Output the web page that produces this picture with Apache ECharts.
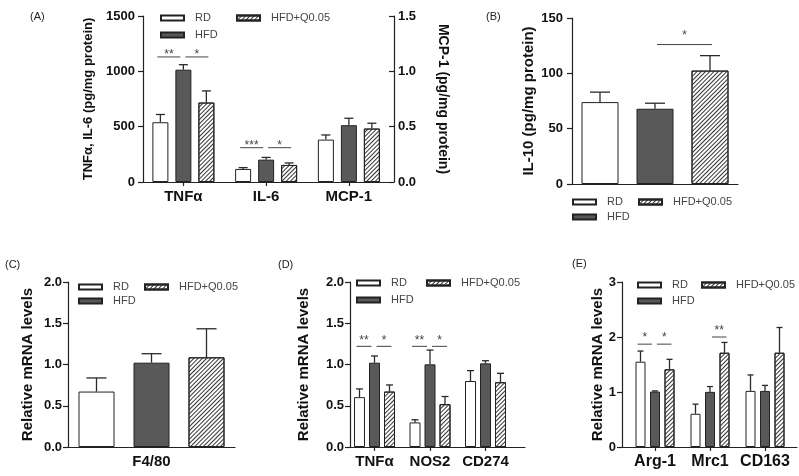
<!DOCTYPE html>
<html><head><meta charset="utf-8">
<script src="https://cdn.jsdelivr.net/npm/echarts@6/dist/echarts.min.js"></script>
<style>html,body{margin:0;padding:0;background:#fff}#c{width:799px;height:476px}</style>
</head><body><div id="c"></div>
<script>
// ---------- DATA ----------
const groupNames = ['RD', 'HFD', 'HFD+Q0.05'];

// Panel A (TNFα, IL-6 on left axis; MCP-1 on right axis)
const catsA = ['TNFα', 'IL-6', 'MCP-1'];
const aRD = [540, 118, 0.383];
const aHFD = [1015, 202, 0.513];
const aQ = [718, 154, 0.483];
const aRDsem = [70, 12, 0.042];
const aHFDsem = [45, 20, 0.063];
const aQsem = [105, 18, 0.048];
const ticksA = [0, 500, 1000, 1500];
const ticksAright = [0, 0.5, 1.0, 1.5];
const sigA = [[0, 0, 1, 1130, '**'], [0, 1, 2, 1130, '*'], [1, 0, 1, 310, '***'], [1, 1, 2, 310, '*']];

// Panel B
const catsB = [''];
const bRD = [74], bHFD = [68], bQ = [102.5];
const bRDsem = [9], bHFDsem = [5], bQsem = [13.5];
const ticksB = [0, 50, 100, 150];
const sigB = [[0, 1, 2, 126, '*']];

// Panel C
const catsC = ['F4/80'];
const cRD = [0.672], cHFD = [1.022], cQ = [1.087];
const cRDsem = [0.165], cHFDsem = [0.109], cQsem = [0.346];
const ticksC = [0, 0.5, 1.0, 1.5, 2.0];

// Panel D
const catsD = ['TNFα', 'NOS2', 'CD274'];
const dRD = [0.604, 0.298, 0.80];
const dHFD = [1.022, 1.002, 1.014];
const dQ = [0.672, 0.519, 0.785];
const dRDsem = [0.10, 0.032, 0.126];
const dHFDsem = [0.081, 0.173, 0.032];
const dQsem = [0.08, 0.093, 0.108];
const ticksD = [0, 0.5, 1.0, 1.5, 2.0];
const sigD = [[0, 0, 1, 1.22, '**'], [0, 1, 2, 1.22, '*'], [1, 0, 1, 1.22, '**'], [1, 1, 2, 1.22, '*']];

// Panel E
const catsE = ['Arg-1', 'Mrc1', 'CD163'];
const eRD = [1.551, 0.604, 1.02];
const eHFD = [1.008, 1.002, 1.02];
const eQ = [1.412, 1.714, 1.714];
const eRDsem = [0.193, 0.175, 0.29];
const eHFDsem = [0.012, 0.097, 0.10];
const eQsem = [0.182, 0.187, 0.459];
const ticksE = [0, 1, 2, 3];
const sigE = [[0, 0, 1, 1.87, '*'], [0, 1, 2, 1.87, '*'], [1, 1, 2, 2.0, '**']];

// ---------- STYLE ----------
const FONT = '"Liberation Sans", Arial, sans-serif';
const AX = '#222';
const groupStyles = [
  { color: '#ffffff', borderColor: '#222', borderWidth: 1 },
  { color: '#595959', borderColor: '#222', borderWidth: 1 },
  { color: '#ffffff', borderColor: '#222', borderWidth: 1,
    decal: { symbol: 'rect', symbolSize: 1, dashArrayX: [1, 0], dashArrayY: [1, 2], rotation: -Math.PI / 4, color: '#333' } }
];

function bars(groupsMeans, xIdx, yIdx, barW, gap, keep) {
  return groupsMeans.map((arr, g) => ({
    type: 'bar', name: groupNames[g], xAxisIndex: xIdx, yAxisIndex: yIdx,
    data: arr.map((v, i) => keep(i) ? v : '-'),
    barWidth: barW, barGap: (gap / barW * 100) + '%',
    itemStyle: groupStyles[g], z: 2, silent: true
  }));
}

function errSeries(groupsMeans, groupsSems, xIdx, yIdx, step, cap, keep) {
  const data = [];
  groupsMeans.forEach((arr, g) => arr.forEach((v, i) => { if (keep(i)) data.push([i, g, v, groupsSems[g][i]]); }));
  return {
    type: 'custom', name: 'err' + xIdx + '_' + yIdx, xAxisIndex: xIdx, yAxisIndex: yIdx, z: 3, silent: true,
    encode: { x: 0, y: 2 }, data: data,
    renderItem: function (params, api) {
      const c = api.value(0), g = api.value(1), m = api.value(2), s = api.value(3);
      const p0 = api.coord([c, m]), p1 = api.coord([c, m + s]);
      const x = p0[0] + (g - 1) * step;
      const st = { stroke: '#2a2a2a', lineWidth: 1.3 };
      return { type: 'group', children: [
        { type: 'line', shape: { x1: x, y1: p0[1], x2: x, y2: p1[1] }, style: st },
        { type: 'line', shape: { x1: x - cap / 2, y1: p1[1], x2: x + cap / 2, y2: p1[1] }, style: st }
      ] };
    }
  };
}

function sigSeries(arr, xIdx, yIdx, step, starGap) {
  return {
    type: 'custom', name: 'sig' + xIdx, xAxisIndex: xIdx, yAxisIndex: yIdx, z: 4, silent: true,
    encode: { x: 0, y: 3 }, data: arr.map(d => [d[0], d[1], d[2], d[3]]),
    renderItem: function (params, api) {
      const d = arr[params.dataIndex];
      const p = api.coord([d[0], d[3]]);
      const xa = p[0] + (d[1] - 1) * step + (d[1] === 1 ? 2 : -3);
      const xb = p[0] + (d[2] - 1) * step + (d[2] === 1 ? -3 : 2);
      return { type: 'group', children: [
        { type: 'line', shape: { x1: xa, y1: p[1], x2: xb, y2: p[1] }, style: { stroke: '#444', lineWidth: 1 } },
        { type: 'text', style: { text: d[4], x: (xa + xb) / 2, y: p[1] - starGap, align: 'center', verticalAlign: 'middle', font: '12px ' + FONT, fill: '#444' } }
      ] };
    }
  };
}

function frameX(grid) {
  return { gridIndex: grid, type: 'category', data: [''], axisLine: { show: true, lineStyle: { color: AX, width: 1.2 } },
    axisTick: { show: false }, axisLabel: { show: false }, splitLine: { show: false } };
}
function dataX(grid, cats, fs, showTick) {
  return { gridIndex: grid, type: 'category', data: cats, axisLine: { show: false },
    axisTick: { show: showTick, alignWithLabel: true, length: 4, interval: 0, lineStyle: { color: AX, width: 1.2 } },
    axisLabel: { show: true, interval: 0, fontSize: fs, fontWeight: 'bold', color: '#111', margin: 7, fontFamily: FONT }, splitLine: { show: false } };
}
function visY(grid, ticks, dec, name, nameGap, nameSize, labelMargin) {
  return { gridIndex: grid, type: 'value', min: ticks[0], max: ticks[ticks.length - 1], interval: ticks[1] - ticks[0],
    axisLine: { show: true, onZero: false, lineStyle: { color: AX, width: 1.2 } },
    axisTick: { show: true, length: 5, lineStyle: { color: AX, width: 1.2 } },
    axisLabel: { fontSize: 13, fontWeight: 'bold', color: '#111', margin: labelMargin, fontFamily: FONT, formatter: v => v.toFixed(dec) },
    splitLine: { show: false },
    name: name, nameLocation: 'middle', nameGap: nameGap,
    nameTextStyle: { fontSize: nameSize, fontWeight: 'bold', color: '#111', fontFamily: FONT } };
}
function hidY(grid, ticks) {
  return { gridIndex: grid, type: 'value', min: ticks[0], max: ticks[ticks.length - 1], show: false, splitLine: { show: false } };
}
function legendPair(l1, l2, top, gap) {
  const base = { orient: 'vertical', top: top, padding: 0, itemGap: gap, itemWidth: 23, itemHeight: 5, icon: 'rect', selectedMode: false,
    textStyle: { fontSize: 11, color: '#444', lineHeight: 12, fontFamily: FONT, padding: [0, 0, 0, 6] } };
  return [Object.assign({}, base, { left: l1, data: ['RD', 'HFD'] }), Object.assign({}, base, { left: l2, data: ['HFD+Q0.05'] })];
}

const rightA = visY(0, ticksAright, 1, 'MCP-1 (pg/mg protein)', 42, 14, 4);
rightA.position = 'right';
rightA.axisTick.inside = true;
rightA.nameRotate = -90;

const keepAll = () => true;
const option = {
  animation: false,
  textStyle: { fontFamily: FONT },
  title: [
    { text: '(A)', left: 30, top: 11 }, { text: '(B)', left: 486, top: 11 },
    { text: '(C)', left: 5, top: 259 }, { text: '(D)', left: 278, top: 259 }, { text: '(E)', left: 572, top: 258 }
  ].map(t => Object.assign(t, { padding: 0, textStyle: { fontSize: 11, fontWeight: 'normal', color: '#222', fontFamily: FONT } })),
  legend: [].concat(
    legendPair(160, 236, 12, 5),
    legendPair(572, 638, 196, 3),
    legendPair(78, 144, 281, 2),
    legendPair(356, 426, 277, 5),
    legendPair(637, 701, 279, 4)
  ),
  grid: [
    { left: 143, top: 16, width: 251, height: 166 },    // 0 A frame
    { left: 142, top: 16, width: 248.25, height: 166 }, // 1 A data
    { left: 572, top: 18, width: 166, height: 166 },    // 2 B
    { left: 68, top: 282, width: 167, height: 165 },    // 3 C
    { left: 350, top: 282, width: 175, height: 165 },   // 4 D frame
    { left: 346.75, top: 282, width: 166.5, height: 165 }, // 5 D data
    { left: 622, top: 282, width: 175, height: 165 },   // 6 E frame
    { left: 627.5, top: 282, width: 165, height: 165 }  // 7 E data
  ],
  xAxis: [
    frameX(0),                                   // 0
    dataX(1, catsA, 15, true),                   // 1
    Object.assign(dataX(1, catsA, 15, false), { show: false }), // 2 MCP-1
    Object.assign(frameX(2), { data: catsB }),   // 3 B
    Object.assign(dataX(3, catsC, 15, false), { axisLine: { show: true, lineStyle: { color: AX, width: 1.2 } } }), // 4 C
    frameX(4),                                   // 5
    dataX(5, catsD, 15, true),                   // 6
    frameX(6),                                   // 7
    dataX(7, catsE, 16, true)                    // 8
  ],
  yAxis: [
    visY(0, ticksA, 0, 'TNFα, IL-6 (pg/mg protein)', 48, 13, 8), // 0
    rightA,                                      // 1
    hidY(1, ticksA),                             // 2
    hidY(1, ticksAright),                        // 3
    visY(2, ticksB, 0, 'IL-10 (pg/mg protein)', 36, 15, 9), // 4
    visY(3, ticksC, 1, 'Relative mRNA levels', 33, 15, 6),  // 5
    visY(4, ticksD, 1, 'Relative mRNA levels', 39, 15, 6),  // 6
    hidY(5, ticksD),                             // 7
    visY(6, ticksE, 0, 'Relative mRNA levels', 17, 15, 6),  // 8
    hidY(7, ticksE)                              // 9
  ],
  series: [].concat(
    bars([aRD, aHFD, aQ], 1, 2, 16, 7, i => i < 2),
    bars([aRD, aHFD, aQ], 2, 3, 16, 7, i => i === 2),
    [errSeries([aRD, aHFD, aQ], [aRDsem, aHFDsem, aQsem], 1, 2, 23, 9, i => i < 2),
     errSeries([aRD, aHFD, aQ], [aRDsem, aHFDsem, aQsem], 2, 3, 23, 9, i => i === 2),
     sigSeries(sigA, 1, 2, 23, 2.5)],
    bars([bRD, bHFD, bQ], 3, 4, 37, 18, keepAll),
    [errSeries([bRD, bHFD, bQ], [bRDsem, bHFDsem, bQsem], 3, 4, 55, 20, keepAll),
     sigSeries(sigB, 3, 4, 55, 8.5)],
    bars([cRD, cHFD, cQ], 4, 5, 36, 19, keepAll),
    [errSeries([cRD, cHFD, cQ], [cRDsem, cHFDsem, cQsem], 4, 5, 55, 20, keepAll)],
    bars([dRD, dHFD, dQ], 6, 7, 11, 4, keepAll),
    [errSeries([dRD, dHFD, dQ], [dRDsem, dHFDsem, dQsem], 6, 7, 15, 7, keepAll),
     sigSeries(sigD, 6, 7, 15, 6)],
    bars([eRD, eHFD, eQ], 8, 9, 10, 4.5, keepAll),
    [errSeries([eRD, eHFD, eQ], [eRDsem, eHFDsem, eQsem], 8, 9, 14.5, 6, keepAll),
     sigSeries(sigE, 8, 9, 14.5, 6)]
  )
};

const chart = echarts.init(document.getElementById('c'), null, { renderer: 'canvas' });
chart.setOption(option);
</script>
</body></html>
